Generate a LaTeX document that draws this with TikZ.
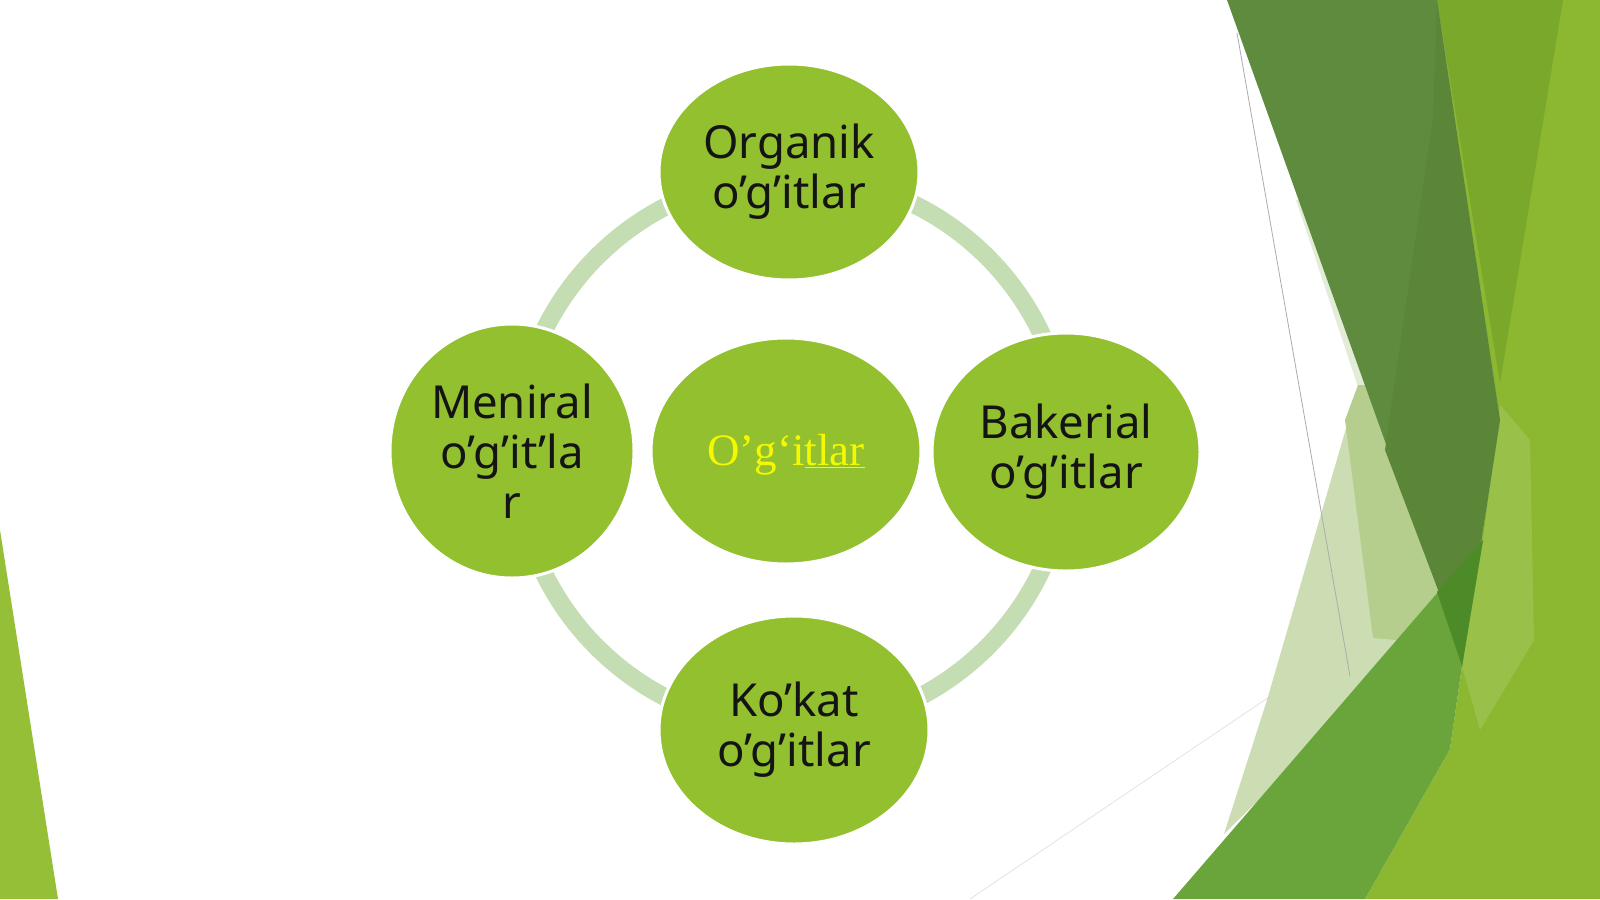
\documentclass[tikz,border=0pt]{standalone}
\usepackage{fontspec}
\setmainfont{Noto Sans}
\newfontfamily\yserif{Liberation Serif}
\usetikzlibrary{shapes.geometric}
\definecolor{leaf}{HTML}{93C02F}
\definecolor{ringc}{HTML}{C5DDB3}
\definecolor{lime}{HTML}{8BB830}
\definecolor{midg}{HTML}{79A82A}
\definecolor{darkg}{HTML}{5E8B3D}
\definecolor{darkg2}{HTML}{5B8637}
\definecolor{medg}{HTML}{69A53B}
\definecolor{overg}{HTML}{4D8B28}
\definecolor{paleg}{HTML}{CCDDB4}
\definecolor{paleg0}{HTML}{E3ECD6}
\definecolor{paleg2}{HTML}{B5CE8E}
\definecolor{tri}{HTML}{95BF36}
\definecolor{yel}{HTML}{F4F800}
\tikzset{
  bub/.style={ellipse, fill=leaf, draw=white, line width=3pt, inner sep=0pt, align=center,
    font=\fontsize{45.5}{50}\selectfont, text=black!92},
  ringline/.style={draw=ringc, line width=18pt},
  faint/.style={line width=0.8pt}
}
\begin{document}
\begin{tikzpicture}[x=1pt,y=-1pt]
\useasboundingbox (0,0) rectangle (1600,899);
\fill[white] (0,0) rectangle (1600,899);
% left triangle
\fill[tri] (0,530) -- (0,899) -- (58,899) -- cycle;
% right decorations
\draw[faint, draw=gray!22] (970,899) -- (1312,668);
\fill[lime] (1437,0) -- (1600,0) -- (1600,899) -- (1365,899) -- (1450,749) -- (1462,666) -- (1500,420) -- cycle;
\fill[white, opacity=0.12] (1500,405) -- (1530,440) -- (1534,640) -- (1480,730) -- (1462,666) -- (1483,540) -- cycle;
\fill[midg] (1437,0) -- (1563,0) -- (1500,383) -- cycle;
\fill[paleg0] (1296,200) -- (1358,387) -- (1420,387) -- (1340,200) -- cycle;
\fill[paleg] (1358,387) -- (1267,700) -- (1224,834) -- (1470,592) -- (1420,387) -- cycle;
\fill[paleg2] (1358,385) -- (1420,385) -- (1470,592) -- (1397,640) -- (1373,638) -- (1345,420) -- cycle;
\fill[darkg] (1227,0) -- (1437,0) -- (1500,420) -- (1462,666) -- (1440,595) -- cycle;
\fill[darkg2] (1437,0) -- (1500,420) -- (1462,666) -- (1440,595) -- (1385,450) -- (1433,117) -- cycle;
\fill[medg] (1173,899) -- (1483,540) -- (1462,666) -- (1450,749) -- (1365,899) -- cycle;
\fill[overg] (1437,592) -- (1483,540) -- (1462,666) -- cycle;
\draw[faint, draw=gray!65] (1237,33) -- (1350,676);
% ring
\draw[ringline] (792,452) circle[radius=276];
% bubbles
\node[bub, minimum width=260pt, minimum height=216pt] (org) at (789,172) {Organik\\o’g’itlar};
\node[bub, minimum width=244pt, minimum height=254pt] (men) at (512,451) {Meniral\\o’g’it’la\\r};
\node[bub, minimum width=268pt, minimum height=238pt] (bak) at (1066,452) {Bakerial\\o’g’itlar};
\node[bub, minimum width=270pt, minimum height=228pt] (kok) at (794,730) {Ko’kat\\o’g’itlar};
\node[bub, minimum width=270pt, minimum height=226pt, text=yel, font=\yserif\fontsize{45}{50}\selectfont] (cen) at (786,451) {\raisebox{-4pt}[\height][\depth]{O’g‘i\underline{tlar}}};
\end{tikzpicture}
\end{document}
